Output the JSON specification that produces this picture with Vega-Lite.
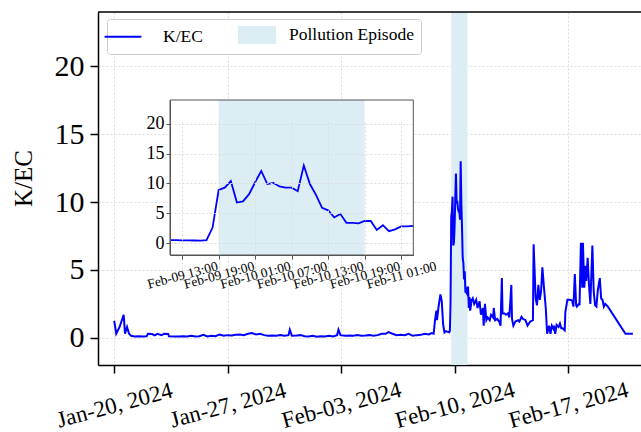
{
  "$schema": "https://vega.github.io/schema/vega-lite/v6.json",
  "width": 543,
  "height": 353,
  "autosize": "none",
  "padding": {"left": 98, "top": 12, "right": 0, "bottom": 67},
  "background": "white",
  "config": {
    "view": {"stroke": null},
    "font": "Liberation Serif",
    "axis": {"labelFont": "Liberation Serif", "titleFont": "Liberation Serif", "labelColor": "#000000", "titleColor": "#000000", "titleFontWeight": "normal"}
  },
  "datasets": {
    "kec": [
      {"time": "2024-01-20T00:00", "kec": 1.26},
      {"time": "2024-01-20T03:00", "kec": 0.3},
      {"time": "2024-01-20T08:00", "kec": 0.8},
      {"time": "2024-01-20T14:00", "kec": 1.7},
      {"time": "2024-01-20T16:00", "kec": 0.3},
      {"time": "2024-01-20T19:00", "kec": 0.8},
      {"time": "2024-01-20T22:00", "kec": 0.3},
      {"time": "2024-01-21T01:00", "kec": 0.15},
      {"time": "2024-01-21T06:00", "kec": 0.1},
      {"time": "2024-01-21T12:00", "kec": 0.12},
      {"time": "2024-01-21T18:00", "kec": 0.1},
      {"time": "2024-01-22T00:00", "kec": 0.12},
      {"time": "2024-01-22T02:00", "kec": 0.3},
      {"time": "2024-01-22T08:00", "kec": 0.28},
      {"time": "2024-01-22T12:00", "kec": 0.18},
      {"time": "2024-01-22T16:00", "kec": 0.3},
      {"time": "2024-01-22T22:00", "kec": 0.2},
      {"time": "2024-01-23T02:00", "kec": 0.3},
      {"time": "2024-01-23T08:00", "kec": 0.28},
      {"time": "2024-01-23T09:00", "kec": 0.12},
      {"time": "2024-01-23T18:00", "kec": 0.1},
      {"time": "2024-01-24T00:00", "kec": 0.1},
      {"time": "2024-01-24T06:00", "kec": 0.12},
      {"time": "2024-01-24T12:00", "kec": 0.1},
      {"time": "2024-01-24T18:00", "kec": 0.15},
      {"time": "2024-01-25T00:00", "kec": 0.1},
      {"time": "2024-01-25T06:00", "kec": 0.12},
      {"time": "2024-01-25T12:00", "kec": 0.22},
      {"time": "2024-01-25T18:00", "kec": 0.1},
      {"time": "2024-01-26T00:00", "kec": 0.15},
      {"time": "2024-01-26T06:00", "kec": 0.12},
      {"time": "2024-01-26T12:00", "kec": 0.25},
      {"time": "2024-01-26T18:00", "kec": 0.15},
      {"time": "2024-01-27T00:00", "kec": 0.2},
      {"time": "2024-01-27T06:00", "kec": 0.18},
      {"time": "2024-01-27T12:00", "kec": 0.22},
      {"time": "2024-01-27T18:00", "kec": 0.25},
      {"time": "2024-01-28T00:00", "kec": 0.2},
      {"time": "2024-01-28T06:00", "kec": 0.3},
      {"time": "2024-01-28T12:00", "kec": 0.35},
      {"time": "2024-01-28T18:00", "kec": 0.25},
      {"time": "2024-01-29T00:00", "kec": 0.3},
      {"time": "2024-01-29T06:00", "kec": 0.2},
      {"time": "2024-01-29T12:00", "kec": 0.15},
      {"time": "2024-01-29T18:00", "kec": 0.18},
      {"time": "2024-01-30T00:00", "kec": 0.15},
      {"time": "2024-01-30T06:00", "kec": 0.2},
      {"time": "2024-01-30T12:00", "kec": 0.15},
      {"time": "2024-01-30T18:00", "kec": 0.2},
      {"time": "2024-01-30T20:00", "kec": 0.6},
      {"time": "2024-01-30T23:00", "kec": 0.15},
      {"time": "2024-01-31T06:00", "kec": 0.17},
      {"time": "2024-01-31T12:00", "kec": 0.2},
      {"time": "2024-01-31T18:00", "kec": 0.12},
      {"time": "2024-02-01T00:00", "kec": 0.1},
      {"time": "2024-02-01T06:00", "kec": 0.15},
      {"time": "2024-02-01T12:00", "kec": 0.08},
      {"time": "2024-02-01T18:00", "kec": 0.12},
      {"time": "2024-02-02T00:00", "kec": 0.1},
      {"time": "2024-02-02T06:00", "kec": 0.15},
      {"time": "2024-02-02T12:00", "kec": 0.1},
      {"time": "2024-02-02T18:00", "kec": 0.2},
      {"time": "2024-02-02T20:00", "kec": 0.6},
      {"time": "2024-02-02T23:00", "kec": 0.2},
      {"time": "2024-02-03T06:00", "kec": 0.15},
      {"time": "2024-02-03T12:00", "kec": 0.18},
      {"time": "2024-02-03T18:00", "kec": 0.15},
      {"time": "2024-02-04T00:00", "kec": 0.2},
      {"time": "2024-02-04T06:00", "kec": 0.15},
      {"time": "2024-02-04T12:00", "kec": 0.17},
      {"time": "2024-02-04T18:00", "kec": 0.2},
      {"time": "2024-02-05T00:00", "kec": 0.15},
      {"time": "2024-02-05T06:00", "kec": 0.2},
      {"time": "2024-02-05T12:00", "kec": 0.3},
      {"time": "2024-02-05T18:00", "kec": 0.3},
      {"time": "2024-02-05T22:00", "kec": 0.42},
      {"time": "2024-02-06T04:00", "kec": 0.3},
      {"time": "2024-02-06T10:00", "kec": 0.2},
      {"time": "2024-02-06T16:00", "kec": 0.22},
      {"time": "2024-02-06T22:00", "kec": 0.2},
      {"time": "2024-02-07T04:00", "kec": 0.3},
      {"time": "2024-02-07T10:00", "kec": 0.15},
      {"time": "2024-02-07T16:00", "kec": 0.2},
      {"time": "2024-02-07T22:00", "kec": 0.22},
      {"time": "2024-02-08T04:00", "kec": 0.3},
      {"time": "2024-02-08T10:00", "kec": 0.25},
      {"time": "2024-02-08T14:00", "kec": 0.35},
      {"time": "2024-02-08T17:00", "kec": 0.3},
      {"time": "2024-02-08T19:00", "kec": 1.3},
      {"time": "2024-02-08T21:00", "kec": 2.0},
      {"time": "2024-02-08T22:00", "kec": 1.3},
      {"time": "2024-02-09T00:00", "kec": 2.2},
      {"time": "2024-02-09T03:00", "kec": 3.2},
      {"time": "2024-02-09T05:00", "kec": 2.7},
      {"time": "2024-02-09T07:00", "kec": 1.0},
      {"time": "2024-02-09T09:00", "kec": 0.4},
      {"time": "2024-02-09T11:00", "kec": 0.5},
      {"time": "2024-02-09T12:00", "kec": 0.48},
      {"time": "2024-02-09T13:00", "kec": 0.45},
      {"time": "2024-02-09T14:00", "kec": 0.45},
      {"time": "2024-02-09T15:00", "kec": 0.43},
      {"time": "2024-02-09T16:00", "kec": 0.4},
      {"time": "2024-02-09T17:00", "kec": 0.5},
      {"time": "2024-02-09T18:00", "kec": 2.6},
      {"time": "2024-02-09T19:00", "kec": 8.9},
      {"time": "2024-02-09T20:00", "kec": 9.3},
      {"time": "2024-02-09T21:00", "kec": 10.4},
      {"time": "2024-02-09T22:00", "kec": 6.8},
      {"time": "2024-02-09T23:00", "kec": 7.0},
      {"time": "2024-02-10T00:00", "kec": 8.2},
      {"time": "2024-02-10T01:00", "kec": 10.2},
      {"time": "2024-02-10T02:00", "kec": 12.1},
      {"time": "2024-02-10T03:00", "kec": 9.9},
      {"time": "2024-02-10T04:00", "kec": 10.1},
      {"time": "2024-02-10T05:00", "kec": 9.5},
      {"time": "2024-02-10T06:00", "kec": 9.3},
      {"time": "2024-02-10T07:00", "kec": 9.3},
      {"time": "2024-02-10T08:00", "kec": 8.7},
      {"time": "2024-02-10T09:00", "kec": 13.0},
      {"time": "2024-02-10T10:00", "kec": 9.9},
      {"time": "2024-02-10T11:00", "kec": 8.1},
      {"time": "2024-02-10T12:00", "kec": 5.9},
      {"time": "2024-02-10T13:00", "kec": 5.5},
      {"time": "2024-02-10T14:00", "kec": 4.3},
      {"time": "2024-02-10T15:00", "kec": 4.9},
      {"time": "2024-02-10T16:00", "kec": 3.4},
      {"time": "2024-02-10T17:00", "kec": 3.4},
      {"time": "2024-02-10T18:00", "kec": 3.3},
      {"time": "2024-02-10T19:00", "kec": 3.7},
      {"time": "2024-02-10T20:00", "kec": 3.7},
      {"time": "2024-02-10T21:00", "kec": 2.2},
      {"time": "2024-02-10T22:00", "kec": 3.0},
      {"time": "2024-02-10T23:00", "kec": 2.0},
      {"time": "2024-02-11T00:00", "kec": 2.3},
      {"time": "2024-02-11T01:00", "kec": 2.8},
      {"time": "2024-02-11T02:00", "kec": 2.8},
      {"time": "2024-02-11T03:00", "kec": 2.9},
      {"time": "2024-02-11T05:00", "kec": 2.5},
      {"time": "2024-02-11T08:00", "kec": 2.8},
      {"time": "2024-02-11T10:00", "kec": 2.2},
      {"time": "2024-02-11T13:00", "kec": 2.7},
      {"time": "2024-02-11T15:00", "kec": 1.7},
      {"time": "2024-02-11T18:00", "kec": 2.2},
      {"time": "2024-02-11T19:00", "kec": 0.9},
      {"time": "2024-02-11T21:00", "kec": 2.5},
      {"time": "2024-02-11T23:00", "kec": 1.3},
      {"time": "2024-02-12T01:00", "kec": 1.5},
      {"time": "2024-02-12T04:00", "kec": 1.3},
      {"time": "2024-02-12T06:00", "kec": 1.7},
      {"time": "2024-02-12T09:00", "kec": 1.5},
      {"time": "2024-02-12T10:00", "kec": 2.2},
      {"time": "2024-02-12T12:00", "kec": 1.3},
      {"time": "2024-02-12T15:00", "kec": 1.4},
      {"time": "2024-02-12T18:00", "kec": 1.2},
      {"time": "2024-02-12T20:00", "kec": 0.9},
      {"time": "2024-02-12T22:00", "kec": 4.4},
      {"time": "2024-02-12T23:00", "kec": 1.8},
      {"time": "2024-02-13T02:00", "kec": 1.8},
      {"time": "2024-02-13T04:00", "kec": 1.7},
      {"time": "2024-02-13T07:00", "kec": 1.8},
      {"time": "2024-02-13T09:00", "kec": 1.5},
      {"time": "2024-02-13T12:00", "kec": 3.9},
      {"time": "2024-02-13T13:00", "kec": 1.4},
      {"time": "2024-02-13T15:00", "kec": 0.9},
      {"time": "2024-02-13T18:00", "kec": 1.2},
      {"time": "2024-02-13T22:00", "kec": 1.3},
      {"time": "2024-02-14T00:00", "kec": 1.2},
      {"time": "2024-02-14T03:00", "kec": 1.55},
      {"time": "2024-02-14T05:00", "kec": 1.4},
      {"time": "2024-02-14T09:00", "kec": 1.3},
      {"time": "2024-02-14T12:00", "kec": 0.9},
      {"time": "2024-02-14T16:00", "kec": 1.2},
      {"time": "2024-02-14T20:00", "kec": 1.3},
      {"time": "2024-02-14T21:00", "kec": 6.9},
      {"time": "2024-02-15T00:00", "kec": 2.9},
      {"time": "2024-02-15T02:00", "kec": 2.4},
      {"time": "2024-02-15T04:00", "kec": 3.9},
      {"time": "2024-02-15T06:00", "kec": 2.8},
      {"time": "2024-02-15T08:00", "kec": 3.4},
      {"time": "2024-02-15T10:00", "kec": 5.2},
      {"time": "2024-02-15T12:00", "kec": 3.9},
      {"time": "2024-02-15T15:00", "kec": 2.2},
      {"time": "2024-02-15T17:00", "kec": 0.3},
      {"time": "2024-02-15T20:00", "kec": 0.9},
      {"time": "2024-02-15T22:00", "kec": 0.3},
      {"time": "2024-02-16T00:00", "kec": 0.9},
      {"time": "2024-02-16T02:00", "kec": 0.7},
      {"time": "2024-02-16T03:00", "kec": 0.9},
      {"time": "2024-02-16T05:00", "kec": 0.3},
      {"time": "2024-02-16T07:00", "kec": 0.95},
      {"time": "2024-02-16T10:00", "kec": 0.8},
      {"time": "2024-02-16T12:00", "kec": 1.05},
      {"time": "2024-02-16T14:00", "kec": 0.7},
      {"time": "2024-02-16T16:00", "kec": 0.7},
      {"time": "2024-02-16T19:00", "kec": 0.55},
      {"time": "2024-02-16T20:00", "kec": 1.9},
      {"time": "2024-02-16T23:00", "kec": 2.8},
      {"time": "2024-02-17T03:00", "kec": 2.8},
      {"time": "2024-02-17T06:00", "kec": 2.75},
      {"time": "2024-02-17T08:00", "kec": 2.3},
      {"time": "2024-02-17T10:00", "kec": 4.7},
      {"time": "2024-02-17T12:00", "kec": 2.4},
      {"time": "2024-02-17T13:00", "kec": 2.3},
      {"time": "2024-02-17T16:00", "kec": 2.5},
      {"time": "2024-02-17T17:00", "kec": 2.4},
      {"time": "2024-02-17T19:00", "kec": 7.0},
      {"time": "2024-02-17T21:00", "kec": 3.7},
      {"time": "2024-02-17T22:00", "kec": 7.0},
      {"time": "2024-02-18T00:00", "kec": 3.7},
      {"time": "2024-02-18T02:00", "kec": 5.3},
      {"time": "2024-02-18T03:00", "kec": 4.2},
      {"time": "2024-02-18T05:00", "kec": 5.9},
      {"time": "2024-02-18T07:00", "kec": 3.9},
      {"time": "2024-02-18T09:00", "kec": 2.5},
      {"time": "2024-02-18T12:00", "kec": 6.8},
      {"time": "2024-02-18T14:00", "kec": 3.4},
      {"time": "2024-02-18T16:00", "kec": 2.4},
      {"time": "2024-02-18T18:00", "kec": 2.3},
      {"time": "2024-02-18T20:00", "kec": 3.5},
      {"time": "2024-02-18T23:00", "kec": 4.4},
      {"time": "2024-02-19T01:00", "kec": 2.9},
      {"time": "2024-02-19T03:00", "kec": 2.8},
      {"time": "2024-02-19T05:00", "kec": 2.3},
      {"time": "2024-02-19T07:00", "kec": 2.5},
      {"time": "2024-02-19T11:00", "kec": 2.3},
      {"time": "2024-02-20T13:00", "kec": 0.3},
      {"time": "2024-02-21T00:00", "kec": 0.3}
    ],
    "episode": [
      {"start": "2024-02-09T19:00", "end": "2024-02-10T19:00"}
    ]
  },
  "layer": [
    {
      "data": {"name": "episode"},
      "mark": {"type": "rect"},
      "encoding": {
        "x": {"field": "start", "type": "temporal", "scale": {"domain": [{"year": 2024, "month": 1, "date": 19}, {"year": 2024, "month": 2, "date": 21, "hours": 12}]}, "axis": null},
        "x2": {"field": "end"},
        "color": {"datum": "Pollution Episode", "type": "nominal", "scale": {"domain": ["K/EC", "Pollution Episode"], "range": ["#0000ff", "#dcedf4"]}}
      }
    },
    {
      "data": {"name": "kec"},
      "mark": {"type": "line", "strokeWidth": 2},
      "encoding": {
        "x": {
          "field": "time", "type": "temporal",
          "scale": {"domain": [{"year": 2024, "month": 1, "date": 19}, {"year": 2024, "month": 2, "date": 21, "hours": 12}]},
          "axis": {
            "orient": "bottom", "title": null, "format": "%b-%d, %Y",
            "values": [{"year": 2024, "month": 1, "date": 20}, {"year": 2024, "month": 1, "date": 27}, {"year": 2024, "month": 2, "date": 3}, {"year": 2024, "month": 2, "date": 10}, {"year": 2024, "month": 2, "date": 17}],
            "labelFont": "Liberation Serif", "labelColor": "#000000",
            "labelAngle": -15, "labelAlign": "center", "labelBaseline": "middle", "labelPadding": 32, "labelFontSize": 23,
            "labelOverlap": false, "labelFlush": false, "labelBound": false,
            "tickSize": 8, "tickWidth": 1.5, "tickColor": "#000000", "domainColor": "#000000", "domainWidth": 1.5,
            "grid": true, "gridColor": "#dddddd", "gridDash": [2, 2], "gridWidth": 1,
            "encode": {"labels": {"update": {"font": {"value": "Liberation Serif"}}}}
          }
        },
        "y": {
          "field": "kec", "type": "quantitative",
          "scale": {"domain": [-2, 24], "nice": false, "zero": false},
          "axis": {
            "orient": "left", "title": "K/EC", "titleFont": "Liberation Serif", "titleColor": "#000000", "titleFontWeight": "normal",
            "titleFontSize": 25, "titleX": -75, "titleY": 166, "titleBaseline": "middle", "titleAngle": -90,
            "values": [0, 5, 10, 15, 20], "labelFont": "Liberation Serif", "labelColor": "#000000", "labelFontSize": 30, "labelPadding": 6,
            "tickSize": 8, "tickWidth": 1.5, "tickColor": "#000000", "domainColor": "#000000", "domainWidth": 1.5,
            "grid": true, "gridColor": "#dddddd", "gridDash": [2, 2], "gridWidth": 1,
            "encode": {"labels": {"update": {"font": {"value": "Liberation Serif"}}}, "title": {"update": {"font": {"value": "Liberation Serif"}}}}
          }
        },
        "color": {
          "datum": "K/EC", "type": "nominal",
          "scale": {"domain": ["K/EC", "Pollution Episode"], "range": ["#0000ff", "#dcedf4"]},
          "legend": {
            "orient": "none", "legendX": 9, "legendY": 7, "direction": "horizontal", "title": null,
            "fillColor": "#ffffff", "strokeColor": "#cccccc", "padding": 7, "cornerRadius": 3,
            "labelFont": "Liberation Serif", "labelFontSize": 17.5, "labelColor": "#000000", "labelOffset": 31, "columnPadding": 32,
            "symbolSize": 256, "symbolStrokeWidth": 2, "symbolOpacity": 1,
            "encode": {
              "symbols": {
                "update": {
                  "shape": {"signal": "datum.value === 'K/EC' ? 'M-2.3,0H2.3' : 'M-2.25,-1H2.25V1H-2.25Z'"},
                  "fill": {"signal": "datum.value === 'K/EC' ? 'transparent' : '#dcedf4'"},
                  "stroke": {"signal": "datum.value === 'K/EC' ? '#0000ff' : 'transparent'"},
                  "strokeWidth": {"value": 2}
                }
              },
              "labels": {
                "update": {
                  "dx": {"signal": "datum.value === 'K/EC' ? 0 : -8"}
                }
              }
            }
          }
        }
      }
    },
    {
      "data": {"values": [{}]},
      "mark": {"type": "rule", "color": "#000000", "strokeWidth": 1.5},
      "encoding": {
        "y": {"datum": 24, "type": "quantitative", "scale": {"domain": [-2, 24], "nice": false, "zero": false}, "axis": null}
      }
    },
    {
      "data": {"values": [{}]},
      "mark": {"type": "rect", "fill": "#ffffff"},
      "encoding": {
        "x": {"datum": {"year": 2024, "month": 2, "date": 9, "hours": 11}, "type": "temporal", "scale": {"domain": [{"year": 2024, "month": 2, "date": 9, "hours": 11}, {"year": 2024, "month": 2, "date": 11, "hours": 3}], "range": [72, 315.3]}, "axis": null},
        "x2": {"datum": {"year": 2024, "month": 2, "date": 11, "hours": 3}},
        "y": {"datum": -2, "type": "quantitative", "scale": {"domain": [-2, 24], "range": [243, 88], "nice": false, "zero": false}, "axis": null},
        "y2": {"datum": 24}
      }
    },
    {
      "data": {"name": "episode"},
      "mark": {"type": "rect", "fill": "#dcedf4"},
      "encoding": {
        "x": {"field": "start", "type": "temporal", "scale": {"domain": [{"year": 2024, "month": 2, "date": 9, "hours": 11}, {"year": 2024, "month": 2, "date": 11, "hours": 3}], "range": [72, 315.3]}, "axis": null},
        "x2": {"field": "end"},
        "y": {"datum": -2, "type": "quantitative", "scale": {"domain": [-2, 24], "range": [243, 88], "nice": false, "zero": false}, "axis": null},
        "y2": {"datum": 24}
      }
    },
    {
      "data": {"name": "kec"},
      "transform": [{"filter": "time(datum.time) >= time(datetime(2024, 1, 9, 11)) && time(datum.time) <= time(datetime(2024, 1, 11, 3))"}],
      "mark": {"type": "line", "color": "#0000ff", "strokeWidth": 1.8},
      "encoding": {
        "x": {
          "field": "time", "type": "temporal",
          "scale": {"domain": [{"year": 2024, "month": 2, "date": 9, "hours": 11}, {"year": 2024, "month": 2, "date": 11, "hours": 3}], "range": [72, 315.3]},
          "axis": {
            "orient": "bottom", "offset": -110, "title": null, "format": "%b-%d %H:%M", "zindex": 1,
            "values": [{"year": 2024, "month": 2, "date": 9, "hours": 13}, {"year": 2024, "month": 2, "date": 9, "hours": 19}, {"year": 2024, "month": 2, "date": 10, "hours": 1}, {"year": 2024, "month": 2, "date": 10, "hours": 7}, {"year": 2024, "month": 2, "date": 10, "hours": 13}, {"year": 2024, "month": 2, "date": 10, "hours": 19}, {"year": 2024, "month": 2, "date": 11, "hours": 1}],
            "labelFont": "Liberation Serif", "labelColor": "#000000",
            "labelAngle": -15, "labelAlign": "center", "labelBaseline": "middle", "labelPadding": 16, "labelFontSize": 13.5,
            "labelOverlap": false, "labelFlush": false, "labelBound": false,
            "tickSize": 4, "tickWidth": 1, "tickColor": "#555555", "domainColor": "#555555", "domainWidth": 1,
            "grid": true, "gridColor": "#dddddd", "gridDash": [2, 2], "gridWidth": 1,
            "encode": {"labels": {"update": {"font": {"value": "Liberation Serif"}}}}
          }
        },
        "y": {
          "field": "kec", "type": "quantitative",
          "scale": {"domain": [-2, 24], "range": [243, 88], "nice": false, "zero": false},
          "axis": {
            "orient": "left", "offset": -72, "title": null, "zindex": 1,
            "values": [0, 5, 10, 15, 20], "labelFont": "Liberation Serif", "labelColor": "#000000", "labelFontSize": 18, "labelPadding": 2,
            "tickSize": 4, "tickWidth": 1, "tickColor": "#555555", "domainColor": "#555555", "domainWidth": 1,
            "grid": true, "gridColor": "#dddddd", "gridDash": [2, 2], "gridWidth": 1,
            "encode": {"labels": {"update": {"font": {"value": "Liberation Serif"}}}}
          }
        }
      }
    },
    {
      "data": {"values": [{}]},
      "mark": {"type": "rect", "fill": null, "fillOpacity": 0, "stroke": "#555555", "strokeWidth": 1},
      "encoding": {
        "x": {"datum": {"year": 2024, "month": 2, "date": 9, "hours": 11}, "type": "temporal", "scale": {"domain": [{"year": 2024, "month": 2, "date": 9, "hours": 11}, {"year": 2024, "month": 2, "date": 11, "hours": 3}], "range": [72, 315.3]}, "axis": null},
        "x2": {"datum": {"year": 2024, "month": 2, "date": 11, "hours": 3}},
        "y": {"datum": -2, "type": "quantitative", "scale": {"domain": [-2, 24], "range": [243, 88], "nice": false, "zero": false}, "axis": null},
        "y2": {"datum": 24}
      }
    }
  ],
  "resolve": {"scale": {"x": "independent", "y": "independent"}, "axis": {"x": "independent", "y": "independent"}}
}
